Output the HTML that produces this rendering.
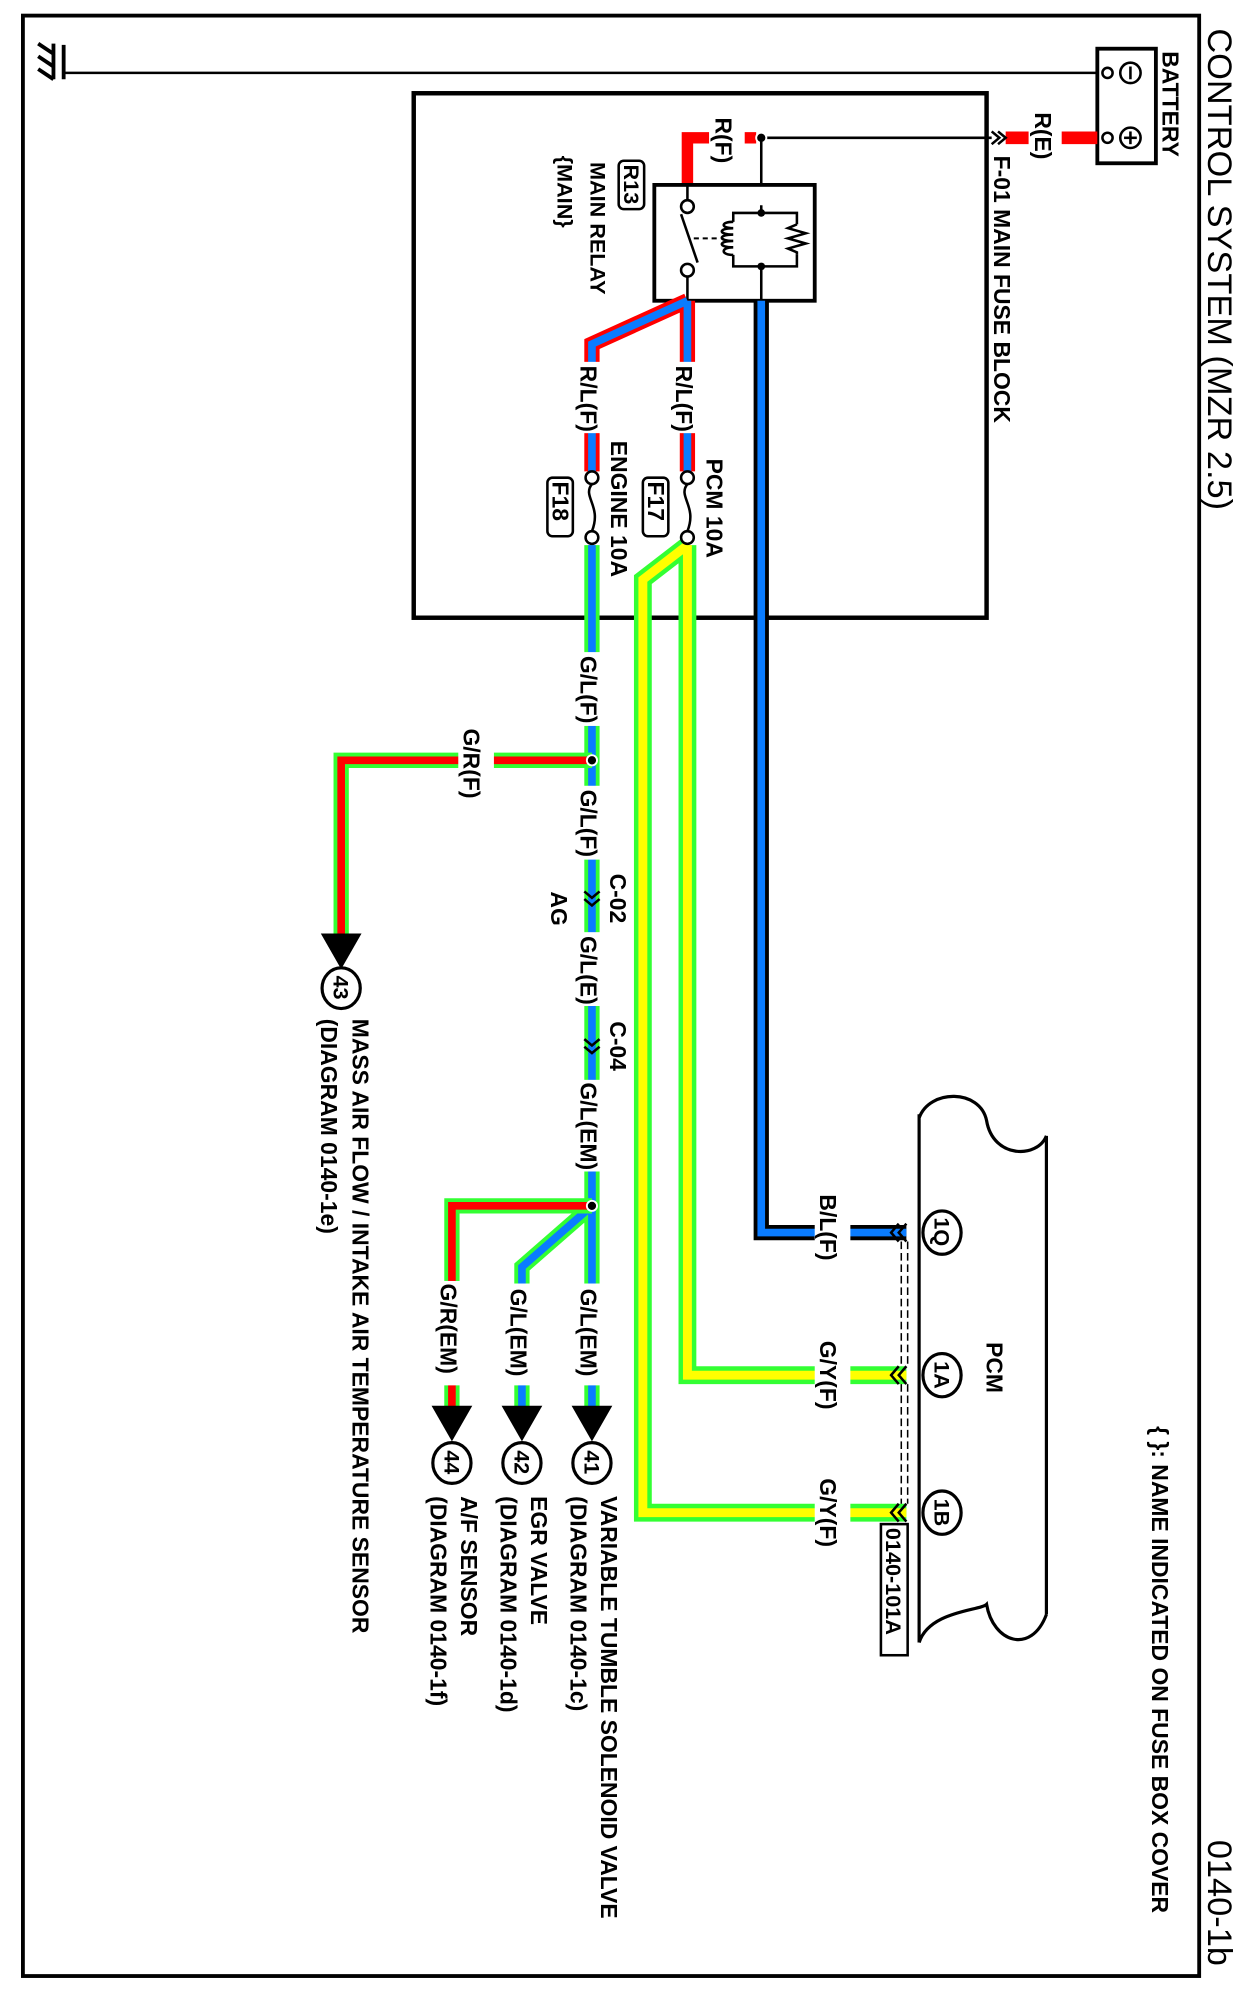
<!DOCTYPE html>
<html><head><meta charset="utf-8"><style>
html,body{margin:0;padding:0;background:#fff}
svg{display:block}
text{font-family:"Liberation Sans",Arial,sans-serif;font-weight:bold;fill:#000}
</style></head><body>
<svg width="1245" height="1998" viewBox="0 0 978 1569" xmlns="http://www.w3.org/2000/svg">
<rect width="978" height="1569" fill="#fff"/>
<rect x="18" y="12" width="924" height="1540" fill="none" stroke="#000" stroke-width="3"/>
<g font-size="27">
<text transform="translate(949,22) rotate(90)" style="font-weight:normal">CONTROL SYSTEM (MZR 2.5)</text>
<text transform="translate(949,1445) rotate(90)" style="font-weight:normal">0140-1b</text>
</g>
<!-- ground -->
<line x1="50" y1="57" x2="862" y2="57" stroke="#000" stroke-width="2"/>
<g stroke="#000" stroke-width="3">
<line x1="50" y1="35" x2="50" y2="62"/>
<line x1="30" y1="34" x2="42" y2="42"/><line x1="30" y1="44" x2="42" y2="52"/><line x1="30" y1="54" x2="42" y2="62"/>
<line x1="42" y1="34" x2="42" y2="62"/>
</g>
<!-- battery -->
<rect x="862" y="38" width="46" height="90" fill="#fff" stroke="#000" stroke-width="3"/>
<circle cx="870" cy="57" r="4" fill="#fff" stroke="#000" stroke-width="2"/>
<circle cx="870" cy="108" r="4" fill="#fff" stroke="#000" stroke-width="2"/>
<circle cx="888" cy="57" r="8" fill="#fff" stroke="#000" stroke-width="2"/>
<line x1="888" y1="52" x2="888" y2="62" stroke="#000" stroke-width="2"/>
<circle cx="888" cy="108" r="8" fill="#fff" stroke="#000" stroke-width="2"/>
<line x1="888" y1="103" x2="888" y2="113" stroke="#000" stroke-width="2"/><line x1="883" y1="108" x2="893" y2="108" stroke="#000" stroke-width="2"/>
<line x1="790" y1="108" x2="862" y2="108" stroke="#f00" stroke-width="10"/>
<rect x="808" y="86" width="26" height="36" fill="#fff"/>
<g font-size="18">
<text transform="translate(913,40) rotate(90)">BATTERY</text>
<text transform="translate(813,88) rotate(90)">R(E)</text>
<text transform="translate(781,122) rotate(90)">F-01 MAIN FUSE BLOCK</text>
</g>
<path d="M779 103 l6 5 l-6 5 M784 103 l6 5 l-6 5" fill="none" stroke="#000" stroke-width="2"/>
<line x1="598" y1="108" x2="779" y2="108" stroke="#000" stroke-width="2"/>
<!-- fuse box -->
<rect x="325" y="73" width="450" height="412" fill="none" stroke="#000" stroke-width="3.5"/>
<!-- R(F) red -->
<path d="M540 145 V108 H594" fill="none" stroke="#f00" stroke-width="9"/>
<rect x="557" y="98" width="28" height="36" fill="#fff"/>
<text transform="translate(562,92) rotate(90)" font-size="18">R(F)</text>
<circle cx="598" cy="108" r="4" fill="#000" stroke="#fff" stroke-width="1.5"/>
<line x1="598" y1="108" x2="598" y2="167" stroke="#000" stroke-width="2"/>
<!-- relay -->
<rect x="514" y="145" width="126" height="91" fill="#fff" stroke="#000" stroke-width="3"/>
<line x1="540" y1="145" x2="540" y2="157" stroke="#000" stroke-width="2"/>
<circle cx="540" cy="162" r="5" fill="#fff" stroke="#000" stroke-width="2"/>
<circle cx="540" cy="212" r="5" fill="#fff" stroke="#000" stroke-width="2"/>
<line x1="540" y1="217" x2="540" y2="236" stroke="#000" stroke-width="2"/>
<line x1="535" y1="168" x2="548" y2="206" stroke="#000" stroke-width="2"/>
<line x1="545" y1="187" x2="563" y2="187" stroke="#000" stroke-width="1.5" stroke-dasharray="4 3"/>
<path d="M598 167 V161 M576 174 V167 H626 V176 M626 200 V209 H576 V200 M598 209 V236" fill="none" stroke="#000" stroke-width="2"/>
<path d="M576 174 c-10 0 -10 5 0 5 c-12 0 -12 5 0 5 c-12 0 -12 5 0 5 c-12 0 -12 5 0 5 c-10 0 -10 6 0 6" fill="none" stroke="#000" stroke-width="2"/>
<path d="M626 176 l-7 3 l14 4 l-14 4 l14 4 l-14 4 l7 3 v2" fill="none" stroke="#000" stroke-width="2"/>
<circle cx="598" cy="167" r="3" fill="#000"/><circle cx="598" cy="209" r="3" fill="#000"/>
<g font-size="17">
<rect x="486" y="126" width="20" height="38" rx="4" fill="none" stroke="#000" stroke-width="2"/>
<text transform="translate(490,129) rotate(90)">R13</text>
<text transform="translate(464,127) rotate(90)">MAIN RELAY</text>
<text transform="translate(438,122) rotate(90)">{MAIN}</text>
</g>
<!-- wires -->
<g fill="none">
<path d="M540 236 V370 M540 236 L465 270 V370" stroke="#f00" stroke-width="12"/>
<path d="M540 236 V370 M540 236 L465 270 V370" stroke="#0a7cff" stroke-width="6"/>
<path d="M598 236 V968 H712" stroke="#000" stroke-width="12"/>
<path d="M598 236 V968 H712" stroke="#0a7cff" stroke-width="6"/>
<path d="M540 428 V1080 H712 M540 428 L505 455 V1188 H712" stroke="#3f3" stroke-width="14"/>
<path d="M540 428 V1080 H712 M540 428 L505 455 V1188 H712" stroke="#ff0" stroke-width="7"/>
<path d="M465 428 V1105 M465 947 L410 995 V1105" stroke="#3f3" stroke-width="12"/>
<path d="M465 428 V1105 M465 947 L410 995 V1105" stroke="#0a7cff" stroke-width="6"/>
<path d="M465 597 H268 V735 M465 947 H355 V1105" stroke="#3f3" stroke-width="12"/>
<path d="M465 597 H268 V735 M465 947 H355 V1105" stroke="#f00" stroke-width="6"/>
</g>
<!-- label gaps -->
<g fill="#fff">
<rect x="527" y="284" width="26" height="56"/><rect x="452" y="284" width="26" height="56"/>
<rect x="452" y="512" width="26" height="58"/><rect x="452" y="617" width="26" height="58"/>
<rect x="452" y="732" width="26" height="58"/><rect x="452" y="848" width="26" height="72"/>
<rect x="360" y="570" width="28" height="60" />
<rect x="452" y="1008" width="26" height="80"/><rect x="397" y="1008" width="26" height="80"/><rect x="342" y="1006" width="26" height="82"/>
<rect x="640" y="936" width="28" height="60"/><rect x="640" y="1050" width="28" height="64"/><rect x="640" y="1158" width="28" height="64"/>
</g>
<!-- fuses -->
<g fill="#fff" stroke="#000" stroke-width="2">
<circle cx="540" cy="375" r="5"/><circle cx="540" cy="422" r="5"/>
<circle cx="465" cy="375" r="5"/><circle cx="465" cy="422" r="5"/>
<path d="M540 380 c-8 10 8 17 0 37 M465 380 c-8 10 8 17 0 37" fill="none"/>
<rect x="505" y="375" width="20" height="46" rx="4" fill="none"/>
<rect x="430" y="375" width="20" height="46" rx="4" fill="none"/>
</g>
<g font-size="18">
<text transform="translate(509,378) rotate(90)">F17</text>
<text transform="translate(434,378) rotate(90)">F18</text>
<text transform="translate(555,360) rotate(90)">PCM 10A</text>
<text transform="translate(480,346) rotate(90)">ENGINE 10A</text>
<text transform="translate(531,287) rotate(90)">R/L(F)</text>
<text transform="translate(456,287) rotate(90)">R/L(F)</text>
<text transform="translate(456,515) rotate(90)">G/L(F)</text>
<text transform="translate(456,620) rotate(90)">G/L(F)</text>
<text transform="translate(456,735) rotate(90)">G/L(E)</text>
<text transform="translate(456,850) rotate(90)">G/L(EM)</text>
<text transform="translate(364,572) rotate(90)">G/R(F)</text>
<text transform="translate(479,686) rotate(90)">C-02</text>
<text transform="translate(433,700) rotate(90)">AG</text>
<text transform="translate(479,802) rotate(90)">C-04</text>
<text transform="translate(456,1012) rotate(90)">G/L(EM)</text>
<text transform="translate(401,1012) rotate(90)">G/L(EM)</text>
<text transform="translate(346,1008) rotate(90)">G/R(EM)</text>
<text transform="translate(644,938) rotate(90)">B/L(F)</text>
<text transform="translate(644,1053) rotate(90)">G/Y(F)</text>
<text transform="translate(644,1161) rotate(90)">G/Y(F)</text>
<text transform="translate(775,1054) rotate(90)">PCM</text>
<text transform="translate(905,1120) rotate(90)">{ }: NAME INDICATED ON FUSE BOX COVER</text>
<text transform="translate(472,1175) rotate(90)">VARIABLE TUMBLE SOLENOID VALVE</text>
<text transform="translate(448,1175) rotate(90)">(DIAGRAM 0140-1c)</text>
<text transform="translate(417,1175) rotate(90)">EGR VALVE</text>
<text transform="translate(393,1175) rotate(90)">(DIAGRAM 0140-1d)</text>
<text transform="translate(362,1175) rotate(90)">A/F SENSOR</text>
<text transform="translate(338,1175) rotate(90)">(DIAGRAM 0140-1f)</text>
<text transform="translate(277,800) rotate(90)">MASS AIR FLOW / INTAKE AIR TEMPERATURE SENSOR</text>
<text transform="translate(252,800) rotate(90)">(DIAGRAM 0140-1e)</text>
</g>
<g fill="#000" stroke="#fff" stroke-width="1.5">
<circle cx="465" cy="597" r="4"/><circle cx="465" cy="947" r="4"/>
</g>
<path d="M459 700 l6 5 l6 -5 M459 706 l6 5 l6 -5 M459 816 l6 5 l6 -5 M459 822 l6 5 l6 -5" fill="none" stroke="#000" stroke-width="2"/>
<g fill="#000">
<path d="M252 733 h32 l-16 28z"/><path d="M449 1104 h32 l-16 28z"/><path d="M394 1104 h32 l-16 28z"/><path d="M339 1104 h32 l-16 28z"/>
</g>
<g fill="#fff" stroke="#000" stroke-width="2.5">
<ellipse cx="268" cy="776" rx="15" ry="16"/><ellipse cx="465" cy="1149" rx="15" ry="16"/><ellipse cx="410" cy="1149" rx="15" ry="16"/><ellipse cx="355" cy="1149" rx="15" ry="16"/>
<ellipse cx="740" cy="968" rx="15" ry="17"/><ellipse cx="740" cy="1080" rx="15" ry="17"/><ellipse cx="740" cy="1188" rx="15" ry="17"/>
</g>
<g font-size="17">
<text transform="translate(262,766) rotate(90)">43</text>
<text transform="translate(459,1139) rotate(90)">41</text>
<text transform="translate(404,1139) rotate(90)">42</text>
<text transform="translate(349,1139) rotate(90)">44</text>
<text transform="translate(734,956) rotate(90)">1Q</text>
<text transform="translate(734,1069) rotate(90)">1A</text>
<text transform="translate(734,1177) rotate(90)">1B</text>
</g>
<!-- PCM shape -->
<path d="M722 875 V1290 M822 892 V1268 M722 878 C730 855 770 855 775 880 C780 910 815 910 822 892 M722 1290 C730 1265 770 1265 775 1260 C780 1290 810 1300 822 1268" fill="none" stroke="#000" stroke-width="2.5"/>
<path d="M712 961 l-6 7 l6 7 M706 961 l-6 7 l6 7 M712 1073 l-6 7 l6 7 M706 1073 l-6 7 l6 7 M712 1181 l-6 7 l6 7 M706 1181 l-6 7 l6 7" fill="none" stroke="#000" stroke-width="2"/>
<path d="M708 975 V1073 M713 975 V1073 M708 1087 V1181 M713 1087 V1181" stroke="#000" stroke-width="1.2" stroke-dasharray="6 3"/>
<rect x="692" y="1197" width="21" height="103" fill="#fff" stroke="#000" stroke-width="2"/>
<text transform="translate(696,1200) rotate(90)" font-size="17">0140-101A</text>
</svg>
</body></html>
